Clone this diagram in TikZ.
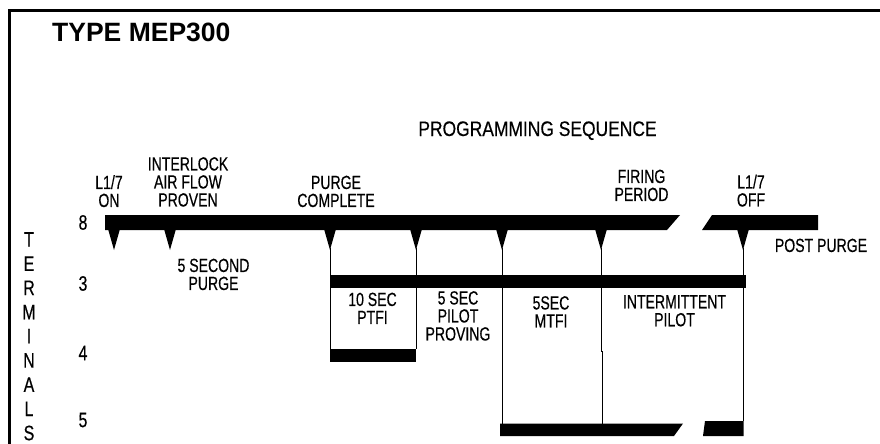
\documentclass[tikz,border=0pt]{standalone}
\usepackage{fontspec}
\setmainfont{Liberation Sans}
\newfontfamily\condfont{Liberation Sans}[FakeStretch=0.74,FakeBold=0.4]
\newfontfamily\bigfont{Liberation Sans}[FakeStretch=0.76,FakeBold=0.4]
\newfontfamily\progfont{Liberation Sans}[FakeStretch=0.83,FakeBold=0.4]
\begin{document}
\begin{tikzpicture}[x=1pt,y=-1pt,
  lbl/.style={font=\condfont\fontsize{19}{18}\selectfont, align=center, inner sep=0pt, anchor=north},
  bigl/.style={font=\bigfont\fontsize{21}{24.2}\selectfont, align=center, inner sep=0pt},
  bar/.style={fill=black, draw=none},
  vline/.style={line width=1pt},
  frame/.style={line width=3pt}]
\useasboundingbox (0,0) rectangle (880,444);
% frame (top and left only)
\coordinate (fc) at (9.5,10.5);
\coordinate (fr) at (880,10.5);
\coordinate (fb) at (9.5,444);
\draw[frame] (fr) -- (fc) -- (fb);
% title
\node[font=\bfseries\fontsize{26.5}{26.5}\selectfont, anchor=west, inner sep=0pt] (title) at (52,32) {TYPE MEP300};
\node[font=\progfont\fontsize{21}{21}\selectfont, inner sep=0pt, anchor=base] (prog) at (537.5,136) {PROGRAMMING SEQUENCE};
% terminals
\node[bigl, anchor=north] (term) at (29,232) {T\\E\\R\\M\\I\\N\\A\\L\\S};
\node[bigl] (n8) at (83,222.5) {8};
\node[bigl] (n3) at (83,283.5) {3};
\node[bigl] (n4) at (83,353) {4};
\node[bigl] (n5) at (83,420) {5};
% bars
\fill[bar] (105,215) -- (680,215) -- (667,230) -- (105,230) -- cycle;
\fill[bar] (712,215) -- (818,215) -- (818,230) -- (702,230) -- cycle;
\fill[bar] (331,275) rectangle (746,288);
\fill[bar] (330,349) rectangle (416,362);
\fill[bar] (500,423.5) -- (683,423.5) -- (674,436) -- (500,436) -- cycle;
\fill[bar] (705,421) -- (743.5,421) -- (743.5,436) -- (703,436) -- cycle;
% triangles on bar 8
\foreach \x/\n in {114/t1,170/t2,330/t3,416/t4,502/t5,601/t6,743/t7}{
  \fill[bar] (\x-6,229) .. controls (\x-3.4,238) .. (\x,250) .. controls (\x+3.4,238) .. (\x+6,229) -- cycle;
  \coordinate (\n) at (\x,248);
}
% bar end points for connectors
\coordinate (b4l) at (330,362);
\coordinate (b4r) at (416,349);
\coordinate (b5a) at (502,424);
\coordinate (j1) at (601,351);
\coordinate (j2) at (602.5,351);
\coordinate (b5b) at (602.5,424);
\coordinate (b5c) at (743,421);
\draw[vline] (t3) -- (b4l);
\draw[vline] (t4) -- (b4r);
\draw[vline] (t5) -- (b5a);
\draw[vline] (t6) -- (j1) -- (j2) -- (b5b);
\draw[vline] (t7) -- (b5c);
% labels
\node[lbl] (l1on) at (109,175) {L1/7\\ON};
\node[lbl] (intl) at (188,157) {INTERLOCK\\AIR FLOW\\PROVEN};
\node[lbl] (purc) at (336,175.5) {PURGE\\COMPLETE};
\node[lbl] (fire) at (641.5,169.5) {FIRING\\PERIOD};
\node[lbl] (l1off) at (751,174.5) {L1/7\\OFF};
\node[lbl] (post) at (821,238.5) {POST PURGE};
\node[lbl] (fsp) at (213.5,258.5) {5 SECOND\\PURGE};
\node[lbl] (ptfi) at (372.5,292.5) {10 SEC\\PTFI};
\node[lbl] (ppv) at (458,291) {5 SEC\\PILOT\\PROVING};
\node[lbl] (mtfi) at (551,296) {5SEC\\MTFI};
\node[lbl] (intp) at (674.5,295) {INTERMITTENT\\PILOT};
\end{tikzpicture}
\end{document}
